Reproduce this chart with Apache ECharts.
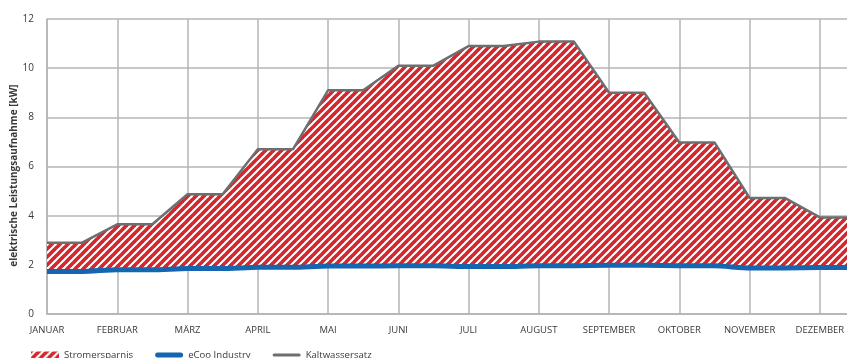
<!DOCTYPE html>
<html>
<head>
<meta charset="utf-8">
<script src="https://cdn.jsdelivr.net/npm/echarts@6/dist/echarts.min.js"></script>
<style>
  html, body { margin: 0; padding: 0; background: #fff; }
  #chart { width: 847px; height: 358px; }
</style>
</head>
<body>
<div id="chart"></div>
<script>
const months = ["JANUAR", "FEBRUAR", "MÄRZ", "APRIL", "MAI", "JUNI", "JULI", "AUGUST", "SEPTEMBER", "OKTOBER", "NOVEMBER", "DEZEMBER"];
// two points per month (start and middle)
const categories = months.flatMap((m) => [m, m + " (Mitte)"]);

const kaltwassersatz = [2.9, 2.9, 3.65, 3.65, 4.87, 4.87, 6.7, 6.7, 9.1, 9.1, 10.1, 10.1, 10.9, 10.9, 11.08, 11.08, 9.0, 9.0, 6.98, 6.98, 4.72, 4.72, 3.93, 3.93];
const ecoo = [1.73, 1.73, 1.8, 1.8, 1.85, 1.85, 1.9, 1.9, 1.95, 1.95, 1.96, 1.96, 1.93, 1.93, 1.96, 1.96, 1.98, 1.98, 1.96, 1.96, 1.87, 1.87, 1.89, 1.89];
const yTicks = { min: 0, max: 12, interval: 2 };

const ersparnis = kaltwassersatz.map((v, i) => +(v - ecoo[i]).toFixed(3));

const font = "'Open Sans', sans-serif";

// diagonal red / white stripes
const stripes = (() => {
  const s = 8;
  const c = document.createElement("canvas");
  c.width = s;
  c.height = s;
  const ctx = c.getContext("2d");
  ctx.fillStyle = "#ffffff";
  ctx.fillRect(0, 0, s, s);
  ctx.strokeStyle = "#d3272e";
  ctx.lineWidth = 3.7;
  for (let k = -1; k <= 1; k++) {
    ctx.beginPath();
    ctx.moveTo(k * s - 1, s + 1);
    ctx.lineTo(k * s + s + 1, -1);
    ctx.stroke();
  }
  return { image: c, repeat: "repeat" };
})();

const chart = echarts.init(document.getElementById("chart"));

chart.setOption({
  animation: false,
  grid: { left: 47, top: 19, right: -8, bottom: 44, containLabel: false, outerBoundsMode: "none" },
  legend: {
    left: 26,
    top: 345,
    itemWidth: 28,
    itemHeight: 7,
    itemGap: 22,
    symbolKeepAspect: true,
    textStyle: { fontFamily: font, fontSize: 9.6, color: "#3a3a3a" },
    data: [
      { name: "Stromersparnis", icon: "rect", itemStyle: { color: stripes } },
      { name: "eCoo Industry", icon: "path://M2.5,0 H25.5 A2.5,2.5 0 0 1 25.5,5 H2.5 A2.5,2.5 0 0 1 2.5,0 Z", itemStyle: { color: "#1565b0" } },
      { name: "Kaltwassersatz", icon: "path://M1.5,0 H26.5 A1.5,1.5 0 0 1 26.5,3 H1.5 A1.5,1.5 0 0 1 1.5,0 Z", itemStyle: { color: "#6e6e70" } },
    ],
  },
  xAxis: {
    type: "category",
    data: categories,
    boundaryGap: false,
    axisLine: { lineStyle: { color: "#b4b4b8", width: 1.5 } },
    axisTick: { show: false },
    axisLabel: {
      interval: 1,
      margin: 11,
      fontFamily: font,
      fontSize: 9.5,
      color: "#3a3a3a",
    },
    splitLine: { show: true, interval: 1, lineStyle: { color: "#b4b4b8", width: 1.5 } },
  },
  yAxis: {
    type: "value",
    min: yTicks.min,
    max: yTicks.max,
    interval: yTicks.interval,
    name: "elektrische Leistungsaufnahme [kW]",
    nameLocation: "middle",
    nameGap: 28,
    nameMoveOverlap: false,
    nameTextStyle: { fontFamily: font, fontSize: 10, fontWeight: "bold", color: "#3a3a3a", padding: [0, 18, 0, 0] },
    axisLine: { show: true, lineStyle: { color: "#b4b4b8", width: 1.5 } },
    axisTick: { show: false },
    axisLabel: { margin: 13, fontFamily: font, fontSize: 10, color: "#3a3a3a" },
    splitLine: { lineStyle: { color: "#b4b4b8", width: 1.5 } },
  },
  series: [
    {
      name: "base",
      type: "line",
      stack: "total",
      data: ecoo,
      symbol: "none",
      silent: true,
      lineStyle: { width: 0, opacity: 0 },
    },
    {
      name: "Stromersparnis",
      type: "line",
      stack: "total",
      data: ersparnis,
      symbol: "none",
      lineStyle: { width: 0 },
      itemStyle: { color: "#d3272e" },
      areaStyle: { color: stripes, opacity: 1 },
    },
    {
      name: "eCoo Industry",
      type: "line",
      data: ecoo,
      symbol: "none",
      smooth: 0.2,
      itemStyle: { color: "#1565b0" },
      lineStyle: { color: "#1565b0", width: 5 },
    },
    {
      name: "Kaltwassersatz",
      type: "line",
      data: kaltwassersatz,
      symbol: "none",
      itemStyle: { color: "#6e6e70" },
      lineStyle: { color: "#6e6e70", width: 2.5 },
    },
  ],
});
</script>
</body>
</html>
